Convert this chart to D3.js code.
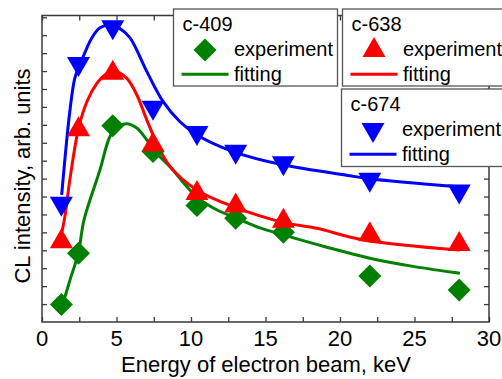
<!DOCTYPE html>
<html>
<head>
<meta charset="utf-8">
<script src="https://cdn.jsdelivr.net/npm/d3@7/dist/d3.min.js"></script>
<style>
html,body{margin:0;padding:0;background:#fff;}
svg text{font-family:"Liberation Sans",Arial,sans-serif;fill:#000;}
</style>
</head>
<body>
<svg id="chart" width="502" height="379"></svg>
<script>
// ---- data ----
const energy = [1.3, 2.45, 4.75, 7.45, 10.4, 13.0, 16.2, 22.0, 28.0];
const c409 = [0.97, 3.84, 10.95, 9.51, 6.50, 5.79, 5.01, 2.57, 1.79];
const c638 = [4.5, 10.75, 13.9, 9.9, 7.2, 6.5, 5.65, 4.9, 4.35];
const c674 = [6.6, 14.4, 16.45, 11.95, 10.55, 9.5, 8.85, 7.93, 7.28];

const fitX409 = [1.32, 1.88, 2.44, 2.82, 3.89, 4.56, 5.01, 5.68, 6.36, 7.03, 7.70, 8.59, 10.38, 11.72, 13.0, 14.63, 16.19, 19.0, 22.0, 25.0, 28.05];
const fit409  = [0.77, 2.35, 3.85, 5.70, 8.49, 10.35, 10.82, 11.06, 10.82, 10.17, 9.42, 8.66, 6.98, 6.26, 5.81, 5.25, 4.86, 4.2, 3.56, 3.09, 2.72];

const fitX638 = [1.34, 1.54, 1.88, 2.48, 3.07, 3.67, 4.23, 4.90, 5.68, 6.36, 7.03, 7.70, 8.59, 10.38, 12.84, 16.19, 18.44, 21.56, 28.05];
const fit638  = [5.03, 5.9, 8.0, 10.9, 12.4, 13.3, 13.8, 13.98, 13.61, 12.68, 11.28, 9.98, 8.68, 7.37, 6.44, 5.56, 5.23, 4.58, 4.02];

const fitX674 = [1.32, 1.88, 2.21, 2.50, 3.34, 3.89, 4.56, 5.23, 5.91, 7.03, 8.12, 9.26, 10.38, 12.82, 16.17, 20.67, 22.0, 28.0];
const fit674  = [7.09, 11.84, 13.63, 14.26, 15.85, 16.42, 16.55, 16.37, 15.85, 13.98, 12.31, 11.17, 10.45, 9.51, 8.77, 8.16, 7.99, 7.54];

const xTicks = [0, 5, 10, 15, 20, 25, 30];
const seriesNames = ["c-409", "c-638", "c-674"];
const seriesColors = ["#008000", "#ff0000", "#0000ff"];
const legendLabels = ["experiment", "fitting"];
const xLabel = "Energy of electron beam, keV";
const yLabel = "CL intensity, arb. units";

// ---- layout ----
const svg = d3.select("#chart");
const L = 42, R = 489, T = 15.5, B = 322;
const x = d3.scaleLinear().domain([0, 30]).range([L, R]);
const y = d3.scaleLinear().domain([0, 17.1]).range([B, T]);
const axisColor = "#3a3a3a";

const shapes = {
  diamond: "M0,-11.5L11.5,0L0,11.5L-11.5,0Z",
  up: "M0,-13L11.5,7L-11.5,7Z",
  down: "M0,13L11.5,-7L-11.5,-7Z"
};
const series = [
  {name: seriesNames[0], color: seriesColors[0], shape: "diamond", vals: c409, fx: fitX409, fy: fit409},
  {name: seriesNames[1], color: seriesColors[1], shape: "up", vals: c638, fx: fitX638, fy: fit638},
  {name: seriesNames[2], color: seriesColors[2], shape: "down", vals: c674, fx: fitX674, fy: fit674}
];

// axes (ticks inward)
const minorX = d3.range(0, 30.01, 2.5);
const gAx = svg.append("g");
gAx.append("g").attr("transform", `translate(0,${B})`)
  .call(d3.axisBottom(x).tickValues(minorX).tickSize(-5).tickFormat(""))
  .call(g => g.select(".domain").remove());
gAx.append("g").attr("transform", `translate(0,${T})`)
  .call(d3.axisTop(x).tickValues(minorX).tickSize(-5).tickFormat(""))
  .call(g => g.select(".domain").remove());
const yT = d3.range(1, 17.01, 1);
gAx.append("g").attr("transform", `translate(${L},0)`)
  .call(d3.axisLeft(y).tickValues(yT).tickSize(-5).tickFormat(""))
  .call(g => g.select(".domain").remove());
gAx.append("g").attr("transform", `translate(${R},0)`)
  .call(d3.axisRight(y).tickValues(yT).tickSize(-5).tickFormat(""))
  .call(g => g.select(".domain").remove());
gAx.selectAll(".tick line").attr("stroke", axisColor).attr("stroke-width", 1.3);
gAx.append("rect").attr("x", L).attr("y", T).attr("width", R - L).attr("height", B - T)
  .attr("fill", "none").attr("stroke", axisColor).attr("stroke-width", 1.5);

// tick labels
svg.append("g").selectAll("text").data(xTicks).join("text")
  .attr("x", d => x(d)).attr("y", 346)
  .attr("text-anchor", "middle").attr("font-size", 22)
  .text(d => d);

// axis titles
svg.append("text").attr("x", (L + R) / 2 + 0.5).attr("y", 372)
  .attr("text-anchor", "middle").attr("font-size", 22).text(xLabel);
svg.append("text").attr("transform", `translate(30,176) rotate(-90)`)
  .attr("text-anchor", "middle").attr("font-size", 22).text(yLabel);

// curves and markers
const line = d3.line().curve(d3.curveCatmullRom.alpha(0.5));
const plot = svg.append("g");
series.forEach(s => {
  const pts = s.fx.map((v, i) => [x(v), y(s.fy[i])]);
  plot.append("path").attr("d", line(pts)).attr("fill", "none")
    .attr("stroke", s.color).attr("stroke-width", 3).attr("stroke-linejoin", "round");
});
series.forEach(s => {
  plot.append("g").selectAll("path").data(s.vals).join("path")
    .attr("transform", (d, i) => `translate(${x(energy[i])},${y(d)})`)
    .attr("d", shapes[s.shape]).attr("fill", s.color);
});

// legends
const boxes = [
  {x: 173.5, y: 9, w: 164, h: 77},
  {x: 342.5, y: 9, w: 170, h: 77},
  {x: 341.5, y: 89, w: 170, h: 77.5}
];
series.forEach((s, i) => {
  const b = boxes[i];
  const g = svg.append("g").attr("transform", `translate(${b.x},${b.y})`);
  g.append("rect").attr("width", b.w).attr("height", b.h)
    .attr("fill", "#fff").attr("stroke", "#555").attr("stroke-width", 1.3);
  g.append("text").attr("x", 9).attr("y", 21.5).attr("font-size", 20).text(s.name);
  g.append("path").attr("transform", "translate(31.5,41)").attr("d", shapes[s.shape]).attr("fill", s.color);
  g.append("text").attr("x", 60.5).attr("y", 47).attr("font-size", 20).text(legendLabels[0]);
  g.append("line").attr("x1", 8).attr("x2", 55).attr("y1", 65.3).attr("y2", 65.3)
    .attr("stroke", s.color).attr("stroke-width", 3);
  g.append("text").attr("x", 60.5).attr("y", 72).attr("font-size", 20).text(legendLabels[1]);
});
</script>
</body>
</html>
